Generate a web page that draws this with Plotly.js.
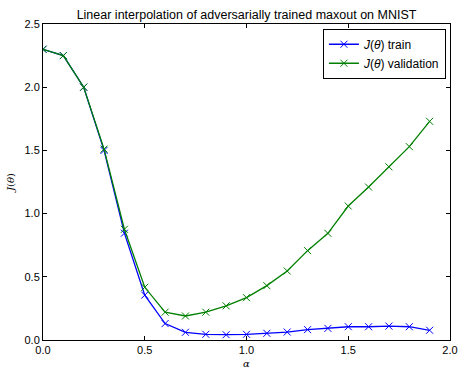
<!DOCTYPE html>
<html lang="en">
<head>
    <meta charset="UTF-8">
    <title>Linear interpolation of adversarially trained maxout on MNIST</title>
    <script src="https://cdn.plot.ly/plotly-3.0.1.min.js"></script>
    <style>
        body { margin: 0; background: #fff; }
        #chart { width: 475px; height: 373px; }
    </style>
</head>
<body>
    <div id="chart"></div>
    <script>
        // interpolation coefficient alpha
        const alpha = [0.0, 0.1, 0.2, 0.3, 0.4, 0.5, 0.6, 0.7, 0.8, 0.9,
                       1.0, 1.1, 1.2, 1.3, 1.4, 1.5, 1.6, 1.7, 1.8, 1.9];
        // cost J(theta) on train / validation
        const trainCost = [2.30, 2.25, 2.00, 1.50, 0.845, 0.355, 0.13, 0.061, 0.045, 0.042,
                           0.045, 0.053, 0.063, 0.082, 0.092, 0.105, 0.105, 0.11, 0.105, 0.077];
        const validCost = [2.30, 2.25, 2.00, 1.51, 0.876, 0.417, 0.22, 0.19, 0.22, 0.27,
                           0.335, 0.43, 0.546, 0.707, 0.844, 1.06, 1.21, 1.37, 1.53, 1.73];
        const xTicks = [0, 0.5, 1.0, 1.5, 2.0];
        const yTicks = [0, 0.5, 1.0, 1.5, 2.0, 2.5];

        const font = 'Liberation Sans, Arial, sans-serif';

        function series(y, name, color) {
            return {
                x: alpha, y: y, name: name,
                type: 'scatter', mode: 'lines+markers',
                line: { color: color, width: 1.3 },
                marker: { symbol: 'x-thin', size: 7, color: color,
                          line: { color: color, width: 1 } }
            };
        }

        const traces = [
            series(trainCost, '<i>J</i>(<i>θ</i>) train', '#0000ff'),
            series(validCost, '<i>J</i>(<i>θ</i>) validation', '#008000')
        ];

        const axisBase = {
            showline: true, linecolor: '#000', linewidth: 1, mirror: 'ticks',
            ticks: 'inside', ticklen: 4, tickcolor: '#000',
            showgrid: false, zeroline: false,
            tickfont: { family: font, size: 11, color: '#000' }
        };

        const layout = {
            width: 475, height: 373,
            margin: { l: 43, r: 25, t: 24, b: 33 },
            paper_bgcolor: '#fff', plot_bgcolor: '#fff',
            showlegend: true,
            title: {
                text: 'Linear interpolation of adversarially trained maxout on MNIST',
                font: { family: font, size: 12.5, color: '#000' },
                x: 0.519, xanchor: 'center',
                y: 0.96, yanchor: 'middle'
            },
            xaxis: Object.assign({}, axisBase, {
                range: [0, 2], tickvals: xTicks, ticktext: xTicks.map(v => v.toFixed(1)),
                title: { text: '<i>α</i>', font: { family: 'DejaVu Serif, serif', size: 10, color: '#000' }, standoff: 4 }
            }),
            yaxis: Object.assign({}, axisBase, {
                range: [0, 2.5], tickvals: yTicks, ticktext: yTicks.map(v => v.toFixed(1)),
                title: { text: '<i>J</i>(<i>θ</i>)', font: { family: 'DejaVu Serif, serif', size: 10, color: '#000' }, standoff: 8 }
            }),
            legend: {
                x: 0.99, y: 0.985, xanchor: 'right', yanchor: 'top',
                bordercolor: '#000', borderwidth: 1, bgcolor: '#fff',
                font: { family: font, size: 12, color: '#000' },
                tracegroupgap: 0
            }
        };

        Plotly.newPlot('chart', traces, layout, { displayModeBar: false, staticPlot: true });
    </script>
</body>
</html>
